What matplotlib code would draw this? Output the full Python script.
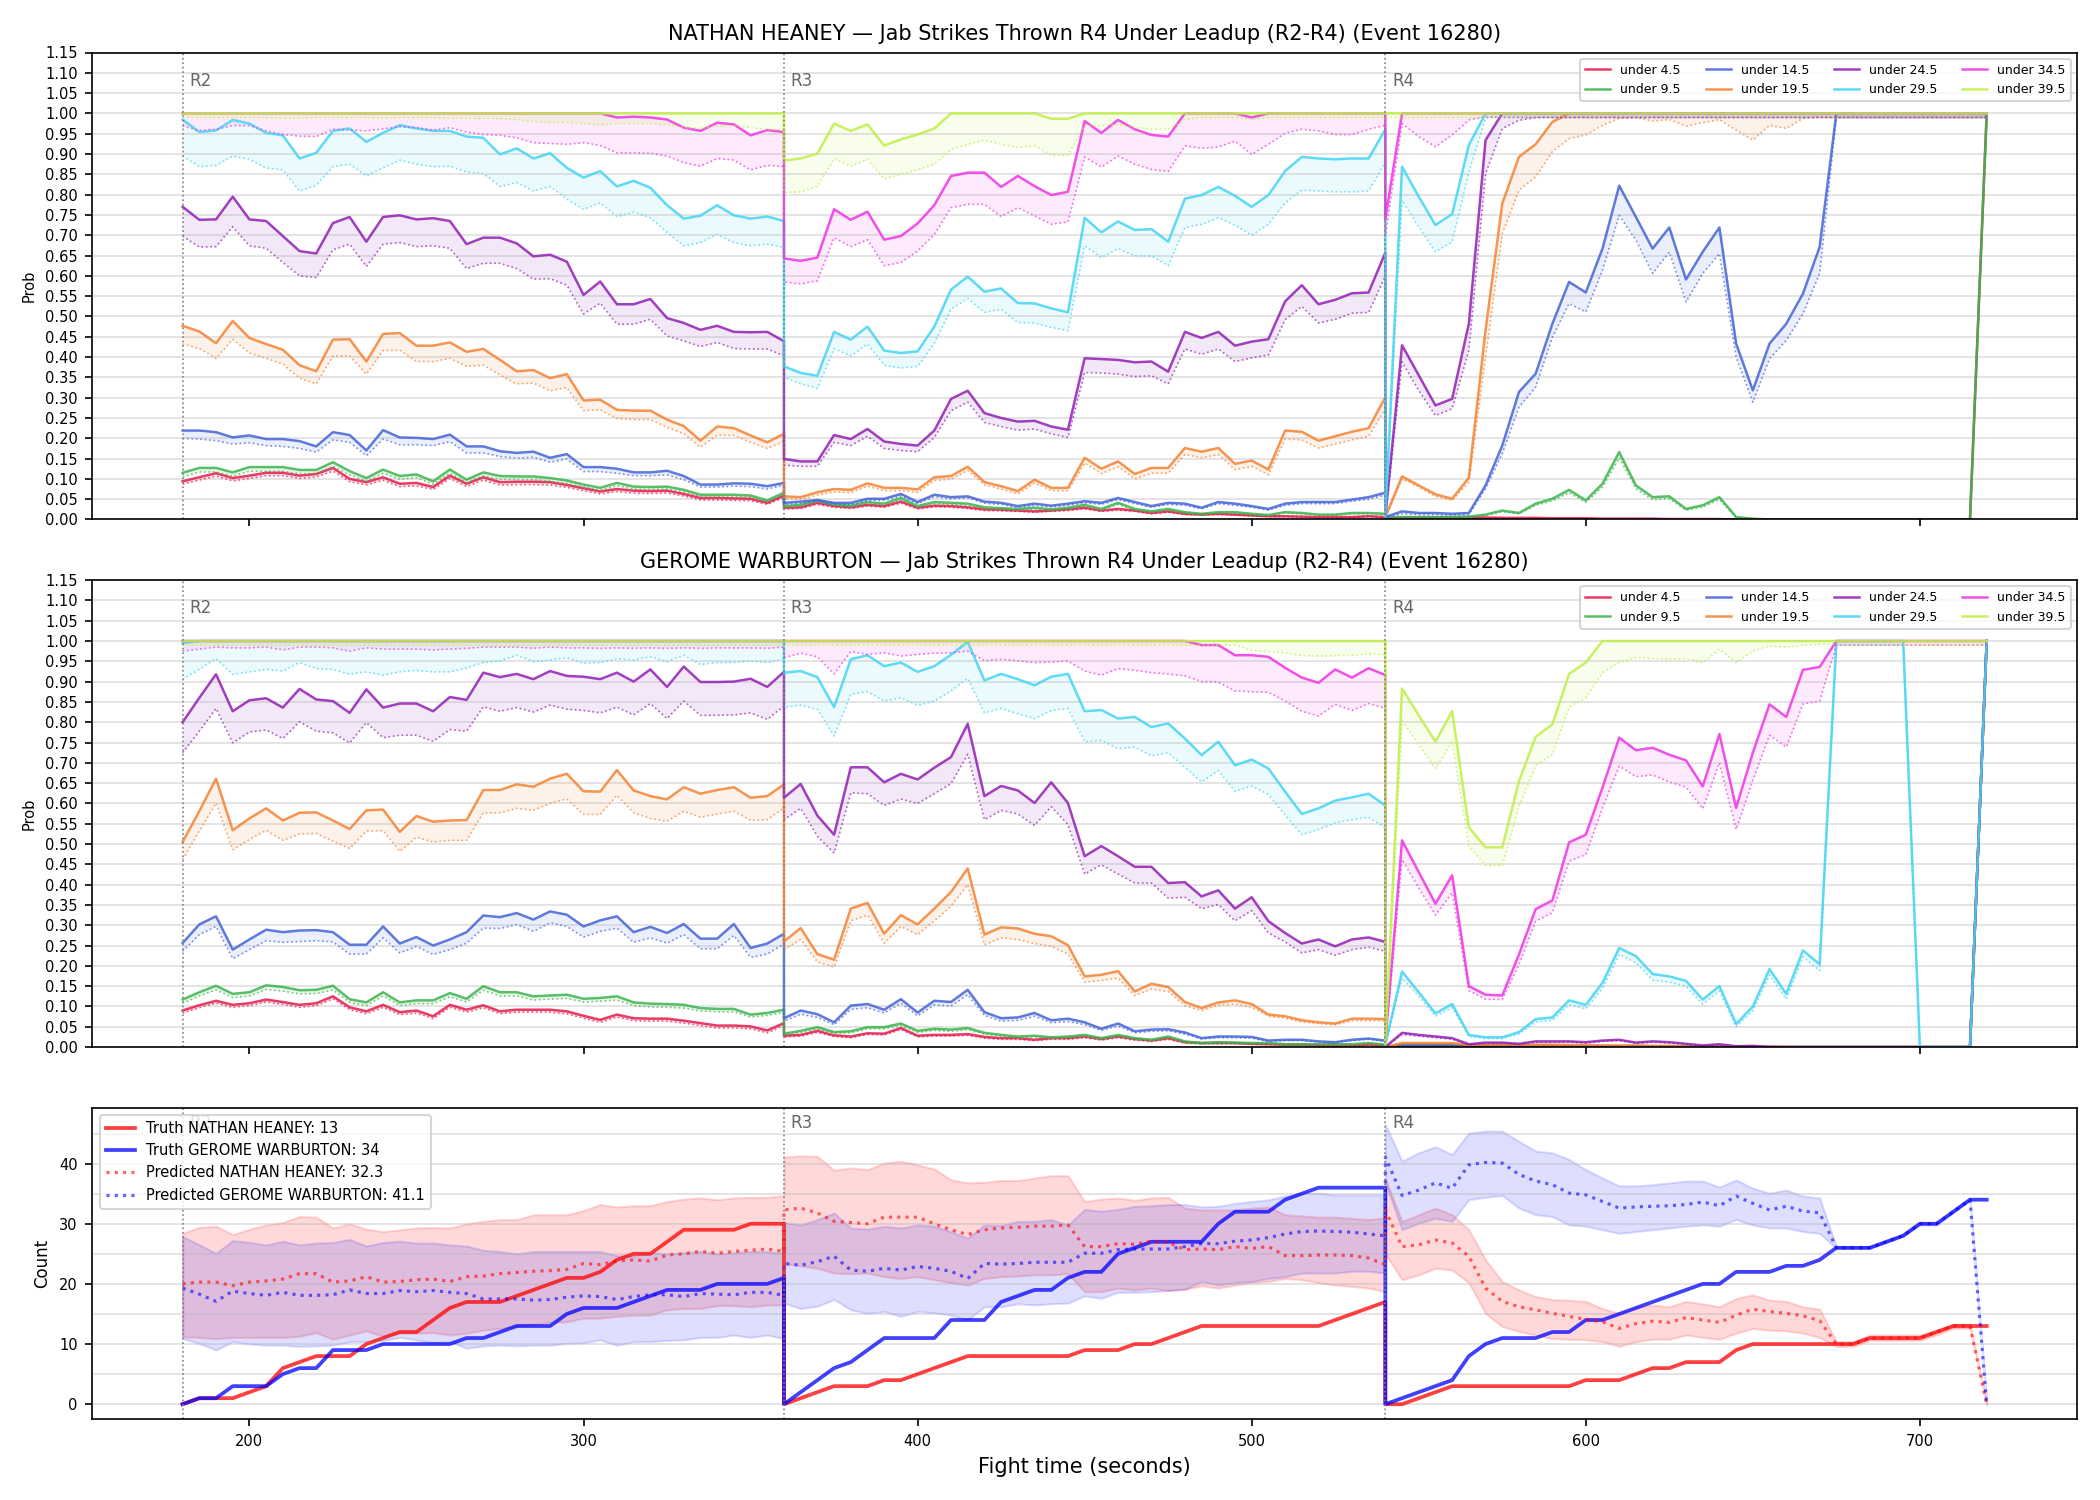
import numpy as np
import matplotlib
matplotlib.use('Agg')
import matplotlib.pyplot as plt
import matplotlib.transforms as mtransforms
from matplotlib.ticker import MultipleLocator

# rounds shown and sampling step (seconds)
round_starts = [180, 360, 540]
round_names = ['R2', 'R3', 'R4']
t = np.concatenate([np.arange(s, s + 181, 5) for s in round_starts])

labels = ['under 4.5', 'under 9.5', 'under 14.5', 'under 19.5',
          'under 24.5', 'under 29.5', 'under 34.5', 'under 39.5']
colors = ['#e6194b', '#3cb44b', '#4363d8', '#f58231',
          '#911eb4', '#42d4f4', '#f032e6', '#bfef45']

# ---------------- NATHAN HEANEY: solid = prob, lo = dotted lower line ----------------
hn_u45 = ([0.094,0.104,0.114,0.102,0.108,0.115,0.115,0.108,0.112,0.127,0.100,0.092,0.104,0.088,0.090,0.080,0.108,0.088,0.104,0.092,0.093,0.093,0.092,0.085,0.077,0.069,0.075,0.071,0.070,0.071,0.063,0.053,0.053,0.052,0.051,0.041,0.059]
          + [0.029,0.030,0.041,0.033,0.030,0.036,0.033,0.044,0.029,0.034,0.033,0.030,0.025,0.024,0.022,0.020,0.022,0.025,0.029,0.022,0.026,0.022,0.016,0.020,0.014,0.012,0.014,0.012,0.010,0.008,0.008,0.007,0.006,0.006,0.006,0.008,0.006]
          + [0.004,0.005,0.005,0.005,0.005,0.005,0.005,0.004,0.004,0.004,0.003,0.003,0.003,0.002,0.002,0.002,0.002,0.001,0.001,0.001,0.001] + [0.0] * 15 + [1.0])
hn_u45_lo = ([0.087,0.097,0.107,0.095,0.101,0.108,0.108,0.101,0.105,0.119,0.093,0.085,0.097,0.081,0.083,0.074,0.101,0.081,0.097,0.085,0.086,0.086,0.085,0.079,0.071,0.063,0.069,0.065,0.064,0.065,0.058,0.048,0.048,0.047,0.046,0.037,0.054]
             + [0.026,0.027,0.037,0.030,0.027,0.033,0.030,0.040,0.026,0.031,0.030,0.027,0.022,0.021,0.020,0.018,0.020,0.022,0.026,0.020,0.023,0.020,0.014,0.018,0.012,0.011,0.012,0.011,0.009,0.007,0.007,0.006,0.005,0.005,0.005,0.007,0.005]
             + [0.003,0.004,0.004,0.004,0.004,0.004,0.004,0.003,0.003,0.003,0.002,0.002,0.002,0.001,0.001,0.001,0.001,0.001,0.0,0.0,0.0] + [0.0] * 15 + [0.99])
hn_u95 = ([0.115,0.127,0.127,0.116,0.129,0.129,0.129,0.122,0.122,0.141,0.119,0.102,0.123,0.107,0.111,0.094,0.123,0.098,0.116,0.107,0.106,0.106,0.102,0.096,0.086,0.078,0.090,0.081,0.080,0.081,0.073,0.061,0.061,0.061,0.059,0.047,0.066]
          + [0.033,0.036,0.047,0.037,0.034,0.043,0.039,0.053,0.033,0.043,0.041,0.039,0.030,0.028,0.026,0.029,0.025,0.029,0.036,0.026,0.041,0.026,0.020,0.026,0.018,0.014,0.018,0.018,0.014,0.011,0.018,0.016,0.012,0.012,0.016,0.016,0.014]
          + [0.004,0.006,0.006,0.006,0.006,0.007,0.012,0.022,0.016,0.039,0.051,0.073,0.047,0.088,0.166,0.084,0.055,0.057,0.026,0.035,0.055,0.006,0.002] + [0.0] * 13 + [1.0])
hn_u95_lo = ([0.105,0.117,0.117,0.107,0.119,0.119,0.119,0.113,0.113,0.131,0.110,0.094,0.114,0.099,0.103,0.087,0.114,0.091,0.107,0.099,0.098,0.098,0.094,0.089,0.080,0.072,0.083,0.075,0.074,0.075,0.068,0.057,0.057,0.057,0.055,0.044,0.061]
             + [0.030,0.033,0.043,0.034,0.031,0.039,0.036,0.048,0.030,0.039,0.037,0.035,0.027,0.025,0.023,0.026,0.022,0.026,0.033,0.023,0.037,0.023,0.018,0.023,0.016,0.012,0.016,0.016,0.012,0.010,0.016,0.014,0.011,0.011,0.014,0.014,0.012]
             + [0.003,0.005,0.005,0.005,0.005,0.006,0.010,0.019,0.014,0.035,0.046,0.066,0.042,0.080,0.152,0.076,0.049,0.051,0.023,0.031,0.049,0.005,0.002] + [0.0] * 13 + [0.99])
hn_u145 = ([0.219,0.219,0.215,0.202,0.207,0.198,0.198,0.193,0.180,0.215,0.208,0.170,0.220,0.202,0.201,0.198,0.209,0.180,0.180,0.168,0.164,0.167,0.152,0.161,0.129,0.129,0.125,0.116,0.116,0.120,0.107,0.086,0.086,0.089,0.088,0.082,0.090]
           + [0.041,0.044,0.048,0.041,0.041,0.051,0.051,0.063,0.043,0.061,0.055,0.057,0.044,0.041,0.033,0.039,0.034,0.039,0.045,0.041,0.053,0.043,0.033,0.041,0.039,0.029,0.043,0.039,0.033,0.026,0.039,0.043,0.043,0.043,0.049,0.055,0.066]
           + [0.006,0.020,0.016,0.016,0.014,0.016,0.084,0.182,0.314,0.359,0.482,0.585,0.559,0.667,0.822,0.745,0.667,0.719,0.591,0.659,0.719,0.433,0.318,0.433,0.482,0.556,0.671] + [1.0] * 10)
hn_u145_lo = ([0.200,0.198,0.194,0.186,0.189,0.182,0.180,0.175,0.166,0.196,0.190,0.157,0.198,0.184,0.184,0.182,0.192,0.164,0.164,0.155,0.151,0.153,0.141,0.149,0.118,0.118,0.114,0.108,0.108,0.110,0.098,0.080,0.080,0.082,0.081,0.075,0.084]
              + [0.037,0.040,0.044,0.037,0.037,0.047,0.047,0.058,0.039,0.056,0.051,0.053,0.040,0.037,0.030,0.035,0.031,0.035,0.041,0.037,0.049,0.039,0.030,0.037,0.035,0.026,0.039,0.035,0.030,0.023,0.035,0.039,0.039,0.039,0.045,0.050,0.060]
              + [0.004,0.014,0.012,0.012,0.010,0.012,0.076,0.162,0.277,0.326,0.449,0.532,0.511,0.614,0.749,0.688,0.606,0.659,0.536,0.606,0.655,0.400,0.289,0.396,0.441,0.507,0.606] + [0.99] * 10)
hn_u195 = ([0.477,0.463,0.434,0.489,0.447,0.432,0.418,0.380,0.365,0.443,0.444,0.389,0.457,0.459,0.428,0.428,0.436,0.413,0.420,0.393,0.365,0.368,0.348,0.358,0.293,0.295,0.270,0.268,0.268,0.246,0.230,0.194,0.229,0.225,0.207,0.190,0.211]
           + [0.057,0.055,0.067,0.075,0.073,0.089,0.078,0.078,0.074,0.104,0.107,0.130,0.092,0.082,0.070,0.098,0.078,0.078,0.152,0.125,0.143,0.112,0.127,0.127,0.176,0.167,0.176,0.137,0.145,0.123,0.219,0.216,0.194,0.205,0.216,0.225,0.301]
           + [0.006,0.106,0.084,0.062,0.051,0.103,0.466,0.778,0.893,0.924,0.979] + [1.0] * 26)
hn_u195_lo = ([0.432,0.421,0.397,0.444,0.410,0.397,0.383,0.348,0.334,0.403,0.403,0.358,0.416,0.417,0.389,0.389,0.397,0.377,0.380,0.356,0.334,0.336,0.317,0.325,0.268,0.270,0.249,0.246,0.246,0.227,0.211,0.178,0.208,0.207,0.190,0.175,0.192]
              + [0.051,0.049,0.060,0.068,0.066,0.082,0.071,0.071,0.067,0.096,0.099,0.121,0.085,0.075,0.063,0.090,0.071,0.071,0.139,0.113,0.130,0.100,0.114,0.114,0.160,0.152,0.160,0.123,0.131,0.110,0.198,0.196,0.176,0.186,0.196,0.205,0.272]
              + [0.004,0.100,0.080,0.057,0.047,0.092,0.400,0.704,0.811,0.844,0.906,0.938,0.947,0.971,0.988,0.990,0.981,0.985,0.969,0.977,0.985,0.959,0.934,0.971,0.963,0.988,0.992] + [0.99] * 10)
hn_u245 = ([0.770,0.738,0.739,0.795,0.739,0.735,0.698,0.661,0.655,0.730,0.745,0.684,0.745,0.749,0.739,0.742,0.735,0.678,0.694,0.694,0.680,0.648,0.652,0.635,0.553,0.586,0.530,0.530,0.543,0.496,0.484,0.467,0.477,0.462,0.461,0.462,0.439]
           + [0.149,0.143,0.143,0.208,0.198,0.223,0.192,0.186,0.182,0.219,0.297,0.317,0.262,0.250,0.241,0.243,0.229,0.221,0.397,0.395,0.393,0.387,0.389,0.364,0.462,0.447,0.462,0.428,0.438,0.444,0.537,0.577,0.530,0.541,0.557,0.559,0.657]
           + [0.006,0.429,0.355,0.281,0.297,0.482,0.934] + [1.0] * 30)
hn_u245_lo = ([0.698,0.671,0.672,0.721,0.674,0.668,0.633,0.600,0.596,0.664,0.678,0.623,0.678,0.682,0.672,0.674,0.668,0.618,0.631,0.631,0.618,0.592,0.593,0.577,0.506,0.533,0.481,0.481,0.493,0.452,0.440,0.426,0.436,0.421,0.420,0.420,0.403]
              + [0.134,0.131,0.131,0.190,0.182,0.205,0.175,0.170,0.167,0.202,0.268,0.289,0.239,0.229,0.220,0.223,0.211,0.202,0.362,0.361,0.358,0.352,0.354,0.334,0.420,0.407,0.420,0.389,0.398,0.405,0.492,0.525,0.484,0.493,0.508,0.510,0.600]
              + [0.004,0.388,0.318,0.256,0.273,0.417,0.852,0.963,0.983,0.990] + [0.99] * 27)
hn_u295 = ([0.985,0.954,0.958,0.984,0.975,0.952,0.946,0.889,0.903,0.957,0.963,0.930,0.952,0.971,0.963,0.957,0.957,0.943,0.940,0.899,0.914,0.889,0.902,0.866,0.842,0.858,0.820,0.834,0.817,0.774,0.741,0.748,0.774,0.749,0.741,0.746,0.735]
           + [0.377,0.361,0.354,0.462,0.443,0.475,0.416,0.410,0.414,0.475,0.566,0.598,0.561,0.569,0.533,0.532,0.520,0.510,0.743,0.707,0.734,0.713,0.715,0.684,0.790,0.799,0.819,0.797,0.770,0.799,0.858,0.893,0.889,0.887,0.889,0.889,0.961]
           + [0.006,0.869,0.795,0.725,0.752,0.922] + [1.0] * 31)
hn_u295_lo = ([0.895,0.869,0.872,0.895,0.887,0.866,0.861,0.809,0.823,0.869,0.875,0.846,0.866,0.885,0.875,0.869,0.870,0.856,0.852,0.820,0.830,0.809,0.820,0.789,0.764,0.780,0.746,0.757,0.743,0.707,0.674,0.682,0.702,0.682,0.674,0.678,0.670]
              + [0.350,0.334,0.323,0.421,0.403,0.432,0.380,0.373,0.377,0.434,0.518,0.544,0.510,0.518,0.485,0.484,0.473,0.465,0.674,0.645,0.667,0.649,0.649,0.625,0.719,0.727,0.743,0.725,0.700,0.727,0.780,0.811,0.809,0.807,0.807,0.809,0.879]
              + [0.004,0.786,0.721,0.659,0.684,0.856,0.988,0.993] + [0.99] * 29)
hn_u345 = ([1.0] * 26 + [0.990,0.992,0.990,0.985,0.965,0.957,0.977,0.973,0.946,0.959,0.954]
           + [0.643,0.637,0.645,0.764,0.738,0.758,0.689,0.698,0.729,0.774,0.846,0.854,0.854,0.819,0.846,0.821,0.799,0.807,0.981,0.952,0.984,0.961,0.947,0.943,1.0,1.0,1.0,1.0,0.990,1.0,1.0,1.0,1.0,1.0,1.0,1.0,1.0]
           + [0.74] + [1.0] * 36)
hn_u345_lo = ([0.969,0.958,0.961,0.970,0.970,0.957,0.948,0.944,0.943,0.961,0.959,0.957,0.962,0.967,0.965,0.959,0.965,0.954,0.948,0.946,0.940,0.928,0.926,0.924,0.928,0.921,0.903,0.903,0.902,0.895,0.879,0.870,0.889,0.885,0.861,0.872,0.869]
              + [0.585,0.580,0.588,0.694,0.672,0.689,0.625,0.633,0.661,0.702,0.768,0.776,0.776,0.746,0.768,0.748,0.727,0.733,0.893,0.868,0.895,0.875,0.862,0.857,0.920,0.914,0.917,0.932,0.899,0.924,0.951,0.961,0.957,0.948,0.948,0.961,0.971]
              + [0.70,0.975,0.943,0.918,0.947,0.984,0.992] + [0.99] * 30)
hn_u395 = ([1.0] * 37
           + [0.884,0.889,0.901,0.975,0.957,0.973,0.921,0.936,0.948,0.963,1.0,1.0,1.0,1.0,1.0,1.0,0.987,0.987] + [1.0] * 19
           + [1.0] * 37)
hn_u395_lo = ([0.99,0.99,0.99,0.99,0.99,0.99,0.988,0.988,0.99,0.99,0.99,0.99,0.988,0.99,0.99,0.99,0.988,0.988,0.987,0.987,0.985,0.98,0.978,0.978,0.975,0.972,0.975,0.975,0.975,0.972,0.965,0.963,0.97,0.97,0.965,0.96,0.96]
              + [0.805,0.807,0.820,0.889,0.870,0.887,0.839,0.850,0.861,0.875,0.911,0.924,0.934,0.924,0.916,0.920,0.897,0.897,0.970,0.970,0.973,0.965,0.961,0.961,0.985,0.99,0.99,0.99,0.985,0.99,0.99,0.99,0.99,0.99,0.99,0.99,0.99]
              + [0.99] * 37)

# ---------------- GEROME WARBURTON ----------------
gw_u45 = ([0.090,0.103,0.114,0.104,0.108,0.117,0.111,0.104,0.108,0.125,0.098,0.088,0.104,0.086,0.090,0.076,0.104,0.092,0.103,0.088,0.092,0.092,0.092,0.088,0.077,0.067,0.080,0.071,0.070,0.070,0.065,0.059,0.053,0.053,0.051,0.041,0.059]
          + [0.028,0.030,0.040,0.029,0.026,0.034,0.033,0.047,0.028,0.030,0.030,0.032,0.025,0.022,0.022,0.018,0.022,0.022,0.026,0.020,0.026,0.020,0.016,0.022,0.012,0.010,0.010,0.010,0.008,0.007,0.006,0.006,0.004,0.004,0.004,0.006,0.004]
          + [0.0,0.003,0.003,0.003,0.003,0.002,0.002,0.002,0.002,0.002,0.002,0.002,0.001,0.001,0.001,0.001,0.001,0.001] + [0.0] * 18 + [1.0])
gw_u45_lo = ([0.084,0.097,0.108,0.098,0.102,0.111,0.105,0.098,0.102,0.119,0.092,0.082,0.098,0.080,0.084,0.070,0.098,0.086,0.097,0.082,0.086,0.086,0.086,0.082,0.071,0.061,0.074,0.065,0.064,0.064,0.059,0.053,0.047,0.047,0.045,0.035,0.053]
             + [0.025,0.027,0.036,0.026,0.023,0.031,0.030,0.043,0.025,0.027,0.027,0.029,0.022,0.019,0.019,0.016,0.019,0.019,0.023,0.017,0.023,0.017,0.014,0.019,0.010,0.008,0.008,0.008,0.007,0.006,0.005,0.005,0.003,0.003,0.003,0.005,0.003]
             + [0.0,0.002,0.002,0.002,0.002,0.001,0.001,0.001,0.001,0.001,0.001,0.001,0.001,0.001,0.001,0.0,0.0,0.0] + [0.0] * 18 + [0.99])
gw_u95 = ([0.117,0.135,0.151,0.131,0.135,0.152,0.148,0.140,0.141,0.151,0.118,0.110,0.135,0.110,0.115,0.115,0.133,0.119,0.150,0.135,0.135,0.125,0.127,0.129,0.119,0.121,0.125,0.110,0.107,0.106,0.104,0.096,0.094,0.094,0.080,0.084,0.092]
          + [0.033,0.040,0.049,0.037,0.039,0.049,0.049,0.058,0.040,0.045,0.043,0.047,0.035,0.030,0.026,0.028,0.024,0.026,0.030,0.022,0.030,0.022,0.018,0.026,0.014,0.010,0.012,0.011,0.010,0.010,0.007,0.007,0.007,0.007,0.007,0.010,0.006]
          + [0.0,0.006,0.006,0.006,0.005,0.004,0.004,0.004,0.003,0.003,0.003,0.003,0.002,0.002,0.002,0.002,0.002,0.001,0.001,0.001] + [0.0] * 16 + [1.0])
gw_u95_lo = ([0.108,0.126,0.141,0.122,0.126,0.142,0.138,0.131,0.132,0.141,0.110,0.102,0.126,0.102,0.107,0.107,0.124,0.111,0.140,0.126,0.126,0.116,0.118,0.120,0.111,0.113,0.116,0.102,0.099,0.098,0.096,0.089,0.087,0.087,0.074,0.078,0.085]
             + [0.030,0.036,0.045,0.034,0.035,0.045,0.045,0.053,0.036,0.041,0.039,0.043,0.032,0.027,0.023,0.025,0.021,0.023,0.027,0.019,0.027,0.019,0.016,0.023,0.012,0.008,0.010,0.009,0.008,0.008,0.006,0.006,0.006,0.006,0.006,0.008,0.005]
             + [0.0,0.005,0.005,0.005,0.004,0.003,0.003,0.003,0.002,0.002,0.002,0.002,0.001,0.001,0.001,0.001,0.001,0.0,0.0,0.0] + [0.0] * 16 + [0.99])
gw_u145 = ([0.256,0.302,0.322,0.240,0.265,0.289,0.283,0.287,0.288,0.283,0.252,0.252,0.297,0.255,0.271,0.250,0.265,0.283,0.324,0.320,0.330,0.314,0.334,0.326,0.297,0.312,0.322,0.283,0.296,0.281,0.303,0.267,0.267,0.303,0.244,0.255,0.279]
           + [0.071,0.090,0.081,0.061,0.102,0.106,0.092,0.118,0.085,0.114,0.111,0.141,0.086,0.071,0.073,0.084,0.066,0.070,0.061,0.045,0.058,0.039,0.043,0.044,0.036,0.022,0.026,0.026,0.025,0.016,0.018,0.018,0.014,0.012,0.018,0.021,0.016]
           + [0.0,0.004,0.004,0.004,0.004,0.003,0.003,0.003,0.003,0.002,0.002,0.002,0.002,0.002,0.001,0.001,0.001,0.001,0.001,0.001] + [0.0] * 16 + [1.0])
gw_u145_lo = ([0.236,0.277,0.297,0.218,0.240,0.262,0.258,0.260,0.262,0.259,0.229,0.229,0.269,0.232,0.248,0.228,0.240,0.256,0.293,0.292,0.302,0.285,0.306,0.297,0.271,0.285,0.293,0.258,0.269,0.256,0.277,0.242,0.242,0.275,0.221,0.229,0.254]
              + [0.064,0.081,0.073,0.055,0.093,0.097,0.084,0.108,0.077,0.104,0.101,0.129,0.078,0.064,0.066,0.076,0.060,0.063,0.055,0.041,0.052,0.035,0.039,0.040,0.032,0.020,0.023,0.023,0.022,0.014,0.016,0.016,0.012,0.011,0.016,0.019,0.014]
              + [0.0,0.003,0.003,0.003,0.003,0.002,0.002,0.002,0.002,0.001,0.001,0.001,0.001,0.001,0.001,0.0,0.0,0.0,0.0,0.0] + [0.0] * 16 + [0.99])
gw_u195 = ([0.505,0.581,0.661,0.534,0.563,0.588,0.558,0.577,0.578,0.558,0.537,0.583,0.585,0.530,0.569,0.555,0.558,0.559,0.633,0.633,0.647,0.641,0.661,0.673,0.630,0.629,0.682,0.632,0.618,0.610,0.640,0.624,0.633,0.640,0.614,0.618,0.647]
           + [0.260,0.293,0.229,0.215,0.341,0.355,0.279,0.325,0.302,0.341,0.382,0.440,0.277,0.295,0.292,0.279,0.273,0.251,0.174,0.178,0.187,0.137,0.156,0.148,0.111,0.096,0.110,0.115,0.106,0.080,0.076,0.066,0.061,0.058,0.070,0.070,0.069]
           + [0.0,0.010,0.010,0.010,0.010,0.005,0.006,0.006,0.005,0.006,0.006,0.005,0.005,0.004,0.004,0.004,0.003,0.003,0.002,0.002,0.002,0.001,0.001,0.001] + [0.0] * 12 + [1.0])
gw_u195_lo = ([0.462,0.532,0.601,0.486,0.511,0.534,0.509,0.525,0.526,0.507,0.489,0.532,0.533,0.482,0.517,0.505,0.509,0.509,0.577,0.577,0.588,0.583,0.600,0.611,0.573,0.573,0.620,0.577,0.563,0.556,0.581,0.566,0.574,0.581,0.558,0.560,0.589]
              + [0.240,0.265,0.210,0.197,0.311,0.325,0.256,0.297,0.277,0.311,0.347,0.400,0.252,0.269,0.265,0.255,0.248,0.229,0.160,0.164,0.170,0.127,0.143,0.137,0.102,0.090,0.103,0.106,0.098,0.076,0.071,0.062,0.058,0.055,0.065,0.065,0.065]
              + [0.0,0.008,0.008,0.008,0.008,0.004,0.005,0.005,0.004,0.005,0.005,0.004,0.004,0.003,0.003,0.003,0.002,0.002,0.001,0.001,0.001,0.0,0.0,0.0] + [0.0] * 12 + [0.99])
gw_u245 = ([0.800,0.860,0.918,0.827,0.854,0.859,0.836,0.882,0.856,0.852,0.823,0.881,0.836,0.846,0.846,0.827,0.862,0.855,0.922,0.911,0.919,0.906,0.926,0.914,0.912,0.906,0.922,0.900,0.930,0.887,0.937,0.899,0.899,0.900,0.907,0.887,0.924]
           + [0.614,0.648,0.570,0.523,0.689,0.689,0.652,0.673,0.659,0.688,0.714,0.796,0.618,0.643,0.632,0.601,0.652,0.601,0.470,0.495,0.470,0.444,0.444,0.404,0.406,0.371,0.386,0.341,0.369,0.310,0.281,0.255,0.265,0.248,0.265,0.270,0.259]
           + [0.0,0.035,0.030,0.026,0.022,0.007,0.011,0.011,0.008,0.014,0.014,0.014,0.012,0.016,0.018,0.011,0.014,0.012,0.008,0.004,0.007,0.002,0.003] + [0.0] * 13 + [1.0])
gw_u245_lo = ([0.725,0.778,0.834,0.749,0.776,0.781,0.760,0.801,0.778,0.774,0.749,0.799,0.762,0.768,0.768,0.753,0.782,0.778,0.838,0.827,0.836,0.825,0.842,0.832,0.829,0.823,0.837,0.818,0.846,0.809,0.852,0.817,0.817,0.818,0.823,0.807,0.840]
              + [0.560,0.588,0.519,0.478,0.626,0.624,0.595,0.611,0.600,0.624,0.649,0.721,0.560,0.583,0.574,0.546,0.592,0.548,0.426,0.449,0.426,0.404,0.404,0.367,0.369,0.341,0.351,0.311,0.336,0.281,0.259,0.232,0.240,0.226,0.240,0.246,0.236]
              + [0.0,0.031,0.027,0.023,0.019,0.006,0.009,0.009,0.007,0.012,0.012,0.012,0.010,0.014,0.016,0.009,0.012,0.010,0.007,0.003,0.006,0.002,0.002] + [0.0] * 13 + [0.99])
gw_u295 = ([0.995] + [1.0] * 36
           + [0.922,0.926,0.911,0.837,0.955,0.965,0.938,0.947,0.924,0.938,0.966,0.998,0.903,0.919,0.906,0.891,0.912,0.919,0.827,0.830,0.809,0.813,0.788,0.797,0.760,0.719,0.752,0.694,0.708,0.686,0.629,0.574,0.588,0.607,0.615,0.624,0.595]
           + [0.006,0.186,0.135,0.083,0.106,0.030,0.024,0.024,0.037,0.069,0.073,0.115,0.104,0.158,0.244,0.224,0.180,0.174,0.163,0.117,0.150,0.057,0.100,0.192,0.131,0.238,0.204,1.0,1.0,1.0,1.0,1.0,0.0,0.0,0.0,0.0,1.0])
gw_u295_lo = ([0.906,0.930,0.957,0.918,0.924,0.930,0.926,0.947,0.932,0.930,0.918,0.924,0.916,0.924,0.928,0.924,0.924,0.934,0.947,0.951,0.965,0.949,0.953,0.959,0.945,0.947,0.956,0.953,0.961,0.949,0.965,0.942,0.947,0.947,0.951,0.947,0.956]
              + [0.837,0.842,0.832,0.766,0.869,0.875,0.852,0.860,0.842,0.852,0.877,0.908,0.823,0.834,0.821,0.809,0.829,0.834,0.752,0.755,0.735,0.739,0.717,0.725,0.689,0.653,0.681,0.630,0.643,0.622,0.571,0.523,0.536,0.552,0.560,0.566,0.540]
              + [0.004,0.170,0.125,0.076,0.097,0.026,0.021,0.021,0.032,0.062,0.066,0.105,0.094,0.145,0.228,0.208,0.165,0.160,0.150,0.106,0.138,0.050,0.090,0.178,0.118,0.222,0.188,0.99,0.99,0.99,0.99,0.99,0.0,0.0,0.0,0.0,0.99])
gw_u345 = ([1.0] * 37
           + [1.0] * 25 + [0.990,0.990,0.965,0.965,0.961,0.934,0.910,0.897,0.930,0.910,0.933,0.916]
           + [0.014,0.509,0.431,0.353,0.423,0.150,0.129,0.127,0.228,0.340,0.361,0.504,0.523,0.639,0.762,0.731,0.737,0.720,0.706,0.642,0.771,0.589,0.725,0.844,0.813,0.929,0.936] + [1.0] * 10)
gw_u345_lo = ([0.975,0.98,0.985,0.983,0.983,0.985,0.978,0.985,0.985,0.983,0.975,0.983,0.98,0.98,0.98,0.978,0.98,0.982,0.985,0.985,0.985,0.982,0.985,0.983,0.983,0.982,0.983,0.982,0.983,0.982,0.983,0.982,0.983,0.983,0.983,0.982,0.985]
              + [0.959,0.970,0.961,0.919,0.974,0.967,0.971,0.963,0.967,0.970,0.971,0.975,0.951,0.955,0.951,0.947,0.948,0.951,0.926,0.916,0.932,0.928,0.922,0.919,0.914,0.900,0.899,0.877,0.875,0.874,0.852,0.827,0.815,0.844,0.829,0.846,0.834]
              + [0.010,0.462,0.392,0.325,0.380,0.139,0.118,0.117,0.203,0.310,0.331,0.458,0.474,0.589,0.692,0.666,0.670,0.653,0.640,0.587,0.700,0.536,0.657,0.768,0.739,0.845,0.852] + [0.99] * 10)
gw_u395 = ([1.0] * 37
           + [1.0] * 37
           + [0.006,0.883,0.817,0.752,0.827,0.541,0.492,0.492,0.655,0.764,0.795,0.919,0.947] + [1.0] * 24)
gw_u395_lo = ([0.99] * 37
              + [0.99] * 28 + [0.977,0.974,0.971,0.964,0.963,0.964,0.964,0.969,0.967]
              + [0.002,0.803,0.745,0.686,0.752,0.494,0.447,0.447,0.593,0.694,0.720,0.837,0.860,0.922,0.947,0.959,0.957,0.955,0.957,0.947,0.980,0.947,0.975,0.988,0.985,0.990,0.992,0.993] + [0.99] * 9)

# ---------------- counts (bottom panel) ----------------
hn_truth = ([0,1,1,1,2,3,6,7,8,8,8,10,11,12,12,14,16,17,17,17,18,19,20,21,21,22,24,25,25,27,29,29,29,29,30,30,30]
            + [0,1,2,3,3,3,4,4,5,6,7,8,8,8,8,8,8,8,9,9,9,10,10,11,12,13,13,13,13,13,13,13,13,14,15,16,17]
            + [0,0,1,2,3,3,3,3,3,3,3,3,4,4,4,5,6,6,7,7,7,9,10,10,10,10,10,10,10,11,11,11,11,12,13,13,13])
gw_truth = ([0,1,1,3,3,3,5,6,6,9,9,9,10,10,10,10,10,11,11,12,13,13,13,15,16,16,16,17,18,19,19,19,20,20,20,20,21]
            + [0,2,4,6,7,9,11,11,11,11,14,14,14,17,18,19,19,21,22,22,25,26,27,27,27,27,30,32,32,32,34,35,36,36,36,36,36]
            + [0,1,2,3,4,8,10,11,11,11,12,12,14,14,15,16,17,18,19,20,20,22,22,22,23,23,24,26,26,26,27,28,30,30,32,34,34])
hn_pred = ([20.0,20.3,20.3,19.7,20.3,20.5,20.8,21.7,21.7,20.3,20.5,21.2,20.3,20.4,20.7,20.8,20.4,21.2,21.3,21.7,21.9,22.1,22.2,22.4,23.4,23.2,23.8,24.0,23.8,24.8,25.0,25.4,25.1,25.4,25.6,25.8,25.4]
           + [32.3,32.6,31.8,30.4,30.2,30.0,31.1,31.1,31.1,30.0,29.0,28.2,29.0,29.3,29.4,29.6,29.6,29.8,26.2,26.2,26.7,26.6,27.1,26.9,25.7,25.8,25.7,26.2,25.9,26.2,24.7,24.7,24.8,24.8,24.7,24.3,23.2]
           + [32.3,26.2,26.5,27.3,26.8,24.6,19.3,17.1,16.2,15.7,15.1,14.6,14.1,13.7,12.6,13.4,13.8,13.6,14.4,14.0,13.6,14.8,15.8,15.4,15.1,14.7,13.9,10.0,10.0,11.0,11.0,11.0,11.0,12.0,13.0,13.0,0.0])
hn_pred_hi = ([28.4,29.4,29.6,28.2,29.1,29.8,30.2,31.2,31.1,29.3,30.0,29.1,28.7,29.0,29.3,29.4,29.3,30.0,30.4,30.7,30.7,31.5,31.5,31.5,32.2,33.2,32.8,33.0,33.0,33.7,34.1,34.3,34.0,34.3,34.4,34.4,34.7]
              + [41.1,41.3,41.2,38.9,39.3,39.0,40.1,40.4,39.8,39.1,37.3,36.8,36.9,37.2,37.2,37.6,38.0,38.0,33.7,34.1,34.3,33.9,34.3,34.4,32.6,32.3,32.3,32.3,32.6,32.8,31.5,31.3,31.1,31.1,30.9,30.7,31.0]
              + [37.5,30.4,31.5,32.6,31.5,29.0,24.0,20.4,19.0,17.9,17.4,17.3,17.1,15.9,15.1,16.1,16.5,16.2,17.1,16.7,16.2,17.6,18.2,17.3,17.1,16.2,15.8,10.4,10.4,11.5,11.5,11.5,11.5,12.3,13.3,13.3,0.0])
hn_pred_lo = ([11.2,11.1,10.9,11.1,11.1,11.1,11.1,11.3,11.9,10.8,11.5,12.2,11.3,11.8,11.8,11.9,11.5,11.8,12.3,12.6,12.9,13.3,13.6,13.7,14.3,14.3,14.6,14.8,14.8,15.7,15.9,15.9,16.4,16.4,16.2,16.5,16.5]
              + [23.4,23.0,22.6,21.8,21.7,21.8,21.2,20.9,21.2,20.7,20.2,19.8,20.9,21.2,21.3,21.5,21.5,21.7,18.7,18.7,19.3,19.0,19.3,18.9,19.1,19.7,19.3,19.8,20.2,20.4,20.9,20.7,20.2,19.8,19.6,19.3,18.7]
              + [25.0,20.7,21.5,22.6,22.3,20.2,15.1,12.9,12.1,11.5,10.9,10.8,10.7,10.4,9.6,10.4,10.8,10.8,11.5,11.1,10.8,11.8,12.6,12.3,12.2,11.8,11.1,9.6,9.6,10.6,10.6,10.6,10.6,11.5,12.6,12.6,0.0])
gw_pred = ([19.3,18.3,17.1,18.8,18.4,18.1,18.6,18.1,18.1,18.2,19.0,18.4,18.4,18.9,18.7,18.9,18.6,18.4,17.5,17.5,17.5,17.3,17.4,17.8,18.0,17.9,17.4,17.9,18.2,18.2,17.9,18.4,18.3,18.2,18.6,18.6,18.1]
           + [23.4,23.1,23.7,24.6,22.3,22.1,22.6,22.3,22.9,22.6,22.1,20.9,23.4,23.3,23.4,23.6,23.6,23.6,25.1,25.1,25.7,25.8,25.8,25.8,26.2,26.7,26.7,27.1,27.3,27.7,28.3,28.7,28.8,28.7,28.6,28.3,28.0]
           + [41.1,34.7,35.6,36.8,35.9,39.8,40.2,40.1,38.2,37.1,36.5,35.1,34.8,33.7,32.6,32.8,32.9,33.0,33.2,33.6,33.0,34.6,33.4,32.3,32.9,32.1,31.8,26.0,26.0,26.0,27.0,28.0,30.0,30.0,32.0,34.0,0.0])
gw_pred_hi = ([27.9,26.5,25.1,27.2,26.9,26.5,27.1,26.5,26.8,26.9,27.4,26.3,26.9,27.1,26.8,26.8,26.5,26.3,25.6,25.4,25.0,25.4,25.4,25.4,25.4,25.4,24.7,24.7,25.2,25.0,25.2,25.4,25.0,25.2,25.4,25.4,25.1]
              + [30.2,29.8,30.7,31.8,29.3,29.1,29.6,29.3,29.8,29.6,28.7,27.6,29.8,29.7,30.4,30.4,30.7,29.8,32.4,32.1,32.4,32.9,33.0,33.2,33.2,32.8,32.9,33.4,33.7,34.0,34.6,35.1,35.1,34.8,34.8,34.8,34.8]
              + [46.5,40.4,41.8,42.8,41.5,45.1,45.4,45.4,43.7,42.1,41.8,40.7,39.0,37.6,36.3,36.3,36.5,36.8,37.1,37.1,36.1,37.3,35.9,35.1,35.6,34.6,34.3,26.2,26.2,26.2,27.2,28.3,30.1,30.1,32.1,34.1,0.0])
gw_pred_lo = ([10.9,10.1,9.0,10.4,10.0,9.8,9.8,9.6,9.7,9.8,10.4,10.4,10.6,11.1,10.7,10.2,10.4,9.3,9.7,9.8,9.7,9.8,9.8,10.1,10.2,10.7,9.8,10.4,10.4,10.6,10.7,11.1,11.1,11.5,11.1,11.5,10.9]
              + [16.8,15.9,16.3,17.4,15.7,15.1,15.4,14.6,15.4,15.2,14.8,14.0,16.2,16.2,16.7,16.5,16.7,16.8,18.0,17.6,18.6,18.6,18.7,18.9,19.1,20.4,19.8,20.2,20.4,20.9,21.2,21.8,21.8,21.8,22.1,22.1,21.8]
              + [36.8,29.0,30.1,30.9,30.4,34.0,34.4,34.7,32.6,31.5,31.2,29.8,29.6,29.0,28.4,28.7,29.0,29.3,29.6,29.8,29.6,30.7,29.8,29.3,29.3,28.7,28.4,25.9,25.9,25.9,26.9,28.0,29.8,29.8,31.9,33.9,0.0])

hn_solid = [hn_u45, hn_u95, hn_u145, hn_u195, hn_u245, hn_u295, hn_u345, hn_u395]
hn_lower = [hn_u45_lo, hn_u95_lo, hn_u145_lo, hn_u195_lo, hn_u245_lo, hn_u295_lo, hn_u345_lo, hn_u395_lo]
gw_solid = [gw_u45, gw_u95, gw_u145, gw_u195, gw_u245, gw_u295, gw_u345, gw_u395]
gw_lower = [gw_u45_lo, gw_u95_lo, gw_u145_lo, gw_u195_lo, gw_u245_lo, gw_u295_lo, gw_u345_lo, gw_u395_lo]

for i, s in enumerate(hn_solid + hn_lower + gw_solid + gw_lower
                      + [hn_truth, gw_truth, hn_pred, hn_pred_hi, hn_pred_lo, gw_pred, gw_pred_hi, gw_pred_lo]):
    if len(s) != len(t):
        raise ValueError(f'series {i} has {len(s)} points, expected {len(t)}')

title_tail = ' \u2014 Jab Strikes Thrown R4 Under Leadup (R2-R4) (Event 16280)'


def round_marks(ax, ypos):
    trans = mtransforms.blended_transform_factory(ax.transData, ax.transAxes)
    for x, name in zip(round_starts, round_names):
        ax.axvline(x, color='gray', ls=':', lw=0.8)
        ax.text(x + 2, ypos, name, transform=trans, color='#666666', fontsize=8, va='center')


def prob_panel(ax, name, solids, lowers):
    for lab, col, y, ylo in zip(labels, colors, solids, lowers):
        ax.plot(t, y, color=col, lw=1.2, alpha=0.85, label=lab)
        ax.plot(t, ylo, color=col, lw=0.8, ls=':', alpha=0.7)
        ax.fill_between(t, ylo, y, color=col, alpha=0.1, lw=0)
    ax.set_ylim(0, 1.15)
    ax.set_yticks(np.arange(0, 1.151, 0.05))
    ax.yaxis.set_major_formatter(plt.FormatStrFormatter('%.2f'))
    ax.grid(axis='y', alpha=0.4)
    ax.set_ylabel('Prob', fontsize=7)
    ax.tick_params(labelsize=7)
    ax.set_title(name + title_tail, fontsize=10)
    round_marks(ax, 0.94)
    ax.legend(loc='upper right', ncol=4, fontsize=6)


fig, axes = plt.subplots(3, 1, figsize=(14, 10), dpi=150, sharex=True,
                         gridspec_kw=dict(height_ratios=[3, 3, 2]))
fig.subplots_adjust(left=0.044, right=0.989, top=0.965, bottom=0.054, hspace=0.146)

prob_panel(axes[0], 'NATHAN HEANEY', hn_solid, hn_lower)
prob_panel(axes[1], 'GEROME WARBURTON', gw_solid, gw_lower)

ax = axes[2]
ax.fill_between(t, hn_pred_lo, hn_pred_hi, color='red', alpha=0.15)
ax.fill_between(t, gw_pred_lo, gw_pred_hi, color='blue', alpha=0.13)
ax.plot(t, hn_truth, color='red', lw=1.8, alpha=0.75, label=f'Truth NATHAN HEANEY: {hn_truth[-1]}')
ax.plot(t, gw_truth, color='blue', lw=1.8, alpha=0.75, label=f'Truth GEROME WARBURTON: {gw_truth[-1]}')
ax.plot(t, hn_pred, color='red', lw=1.5, ls=':', alpha=0.6, label='Predicted NATHAN HEANEY: 32.3')
ax.plot(t, gw_pred, color='blue', lw=1.5, ls=':', alpha=0.6, label='Predicted GEROME WARBURTON: 41.1')
ax.set_ylim(-2.46, 49.3)
ax.yaxis.set_major_locator(MultipleLocator(10))
ax.yaxis.set_minor_locator(MultipleLocator(5))
ax.grid(axis='y', which='both', alpha=0.4)
ax.tick_params(labelsize=7)
ax.tick_params(which='minor', length=0)
ax.set_ylabel('Count', fontsize=8)
ax.set_xlabel('Fight time (seconds)', fontsize=10)
round_marks(ax, 0.95)
ax.legend(loc='upper left', fontsize=7)

fig.savefig('out.png', dpi=150)
